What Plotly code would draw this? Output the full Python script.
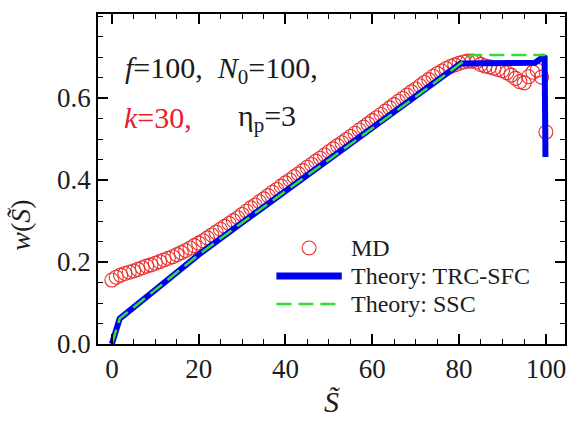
import plotly.graph_objects as go

# MD simulation: w(S~) sampled at every integer S~ from 0 to 100
md_s = list(range(0, 101))
md_w = [
    0.156, 0.163, 0.168, 0.172, 0.175, 0.178, 0.182, 0.186, 0.190, 0.193,
    0.197, 0.201, 0.205, 0.209, 0.213, 0.218, 0.223, 0.228, 0.234, 0.240,
    0.246, 0.252, 0.259, 0.266, 0.273, 0.280, 0.287, 0.294, 0.301, 0.308,
    0.316, 0.324, 0.332, 0.339, 0.347, 0.354, 0.362, 0.370, 0.377, 0.385,
    0.393, 0.400, 0.408, 0.415, 0.423, 0.431, 0.438, 0.446, 0.453, 0.461,
    0.469, 0.476, 0.484, 0.491, 0.499, 0.506, 0.514, 0.522, 0.529, 0.537,
    0.545, 0.552, 0.560, 0.568, 0.576, 0.584, 0.592, 0.599, 0.607, 0.615,
    0.622, 0.630, 0.638, 0.645, 0.653, 0.660, 0.666, 0.672, 0.677, 0.681,
    0.685, 0.688, 0.690, 0.690, 0.688, 0.682, 0.678, 0.676, 0.673, 0.670,
    0.667, 0.662, 0.656, 0.648, 0.640, 0.637, 0.652, 0.663, 0.668, 0.651,
    0.517,
]

# Theory: TRC-SFC
trc_s = [0.0, 1.8, 10.0, 20.0, 30.0, 40.0, 50.0, 60.0, 70.0, 80.3, 97.5, 99.7, 99.9]
trc_w = [0.0, 0.062, 0.132, 0.218, 0.296, 0.373, 0.449, 0.525, 0.603, 0.684, 0.686, 0.703, 0.456]

# Theory: SSC
ssc_s = [0.0, 1.8, 10.0, 20.0, 30.0, 40.0, 50.0, 60.0, 70.0, 80.3, 83.0, 99.9]
ssc_w = [0.0, 0.062, 0.132, 0.218, 0.296, 0.373, 0.449, 0.525, 0.603, 0.684, 0.705, 0.705]

x_ticks = [0, 20, 40, 60, 80, 100]
y_ticks = [0.0, 0.2, 0.4, 0.6]

SERIF = "Liberation Serif, Times New Roman, serif"
INK = "#1c1c1c"
MD_RED = "#e8302c"
TRC_BLUE = "#0000f0"
SSC_GREEN = "#33dd33"
SSC_DASH = "15px,7px"

fig = go.Figure()
fig.add_trace(go.Scatter(
    x=md_s, y=md_w, mode="markers", name="MD",
    marker=dict(symbol="circle-open", size=14, color=MD_RED, line=dict(width=1.1)),
))
fig.add_trace(go.Scatter(
    x=trc_s, y=trc_w, mode="lines", name="Theory: TRC-SFC",
    line=dict(color=TRC_BLUE, width=6),
))
fig.add_trace(go.Scatter(
    x=ssc_s, y=ssc_w, mode="lines", name="Theory: SSC",
    line=dict(color=SSC_GREEN, width=2.5, dash=SSC_DASH),
))

axis_common = dict(
    showline=True, linecolor="black", linewidth=1.5, mirror="ticks",
    ticks="inside", ticklen=10, tickwidth=1.5, tickcolor="black",
    showgrid=False, zeroline=False,
    tickfont=dict(family=SERIF, size=27, color=INK),
)

fig.update_xaxes(
    range=[-3.2, 104.4], tickvals=x_ticks,
    minor=dict(dtick=5, tick0=0, ticks="inside", ticklen=5, tickwidth=1.2, tickcolor="black"),
    title=dict(text="<i>S\u0303</i>", font=dict(family=SERIF, size=30, color=INK), standoff=8),
    **axis_common,
)
fig.update_yaxes(
    range=[0.0, 0.805], tickvals=y_ticks, tickformat=".1f",
    minor=dict(dtick=0.05, tick0=0, ticks="inside", ticklen=5, tickwidth=1.2, tickcolor="black"),
    **axis_common,
)

# y-axis title
fig.add_annotation(
    xref="paper", yref="paper", x=-0.166, y=0.36, xanchor="center", yanchor="middle",
    textangle=-90, text="<i>w</i>(<i>S\u0303</i>)", showarrow=False,
    font=dict(family=SERIF, size=28, color=INK),
)

# parameter labels
fig.add_annotation(
    xref="paper", yref="paper", x=0.053, y=0.83, xanchor="left", yanchor="middle",
    text="<i>f</i>=100,\u00a0\u00a0<i>N</i><sub>0</sub>=100,", showarrow=False,
    font=dict(family=SERIF, size=30, color=INK),
)
fig.add_annotation(
    xref="paper", yref="paper", x=0.051, y=0.685, xanchor="left", yanchor="middle",
    text="<i>k</i>=30,", showarrow=False,
    font=dict(family=SERIF, size=30, color="#e8202a"),
)
fig.add_annotation(
    xref="paper", yref="paper", x=0.295, y=0.685, xanchor="left", yanchor="middle",
    text="\u03b7<sub>p</sub>=3", showarrow=False,
    font=dict(family=SERIF, size=30, color=INK),
)

# legend box drawn in paper coordinates
KEY_X0, KEY_X1 = 0.382, 0.522
TEXT_X = 0.537
ROW_Y = [0.291, 0.206, 0.121]
fig.add_shape(type="circle", xref="paper", yref="paper",
              x0=0.437, x1=0.467, y0=ROW_Y[0] - 0.021, y1=ROW_Y[0] + 0.021,
              line=dict(color=MD_RED, width=1.1))
fig.add_shape(type="line", xref="paper", yref="paper",
              x0=KEY_X0, x1=KEY_X1, y0=ROW_Y[1], y1=ROW_Y[1],
              line=dict(color=TRC_BLUE, width=7))
fig.add_shape(type="line", xref="paper", yref="paper",
              x0=KEY_X0, x1=KEY_X1, y0=ROW_Y[2], y1=ROW_Y[2],
              line=dict(color=SSC_GREEN, width=2.5, dash=SSC_DASH))
for label, yy in zip(["MD", "Theory: TRC-SFC", "Theory: SSC"], ROW_Y):
    fig.add_annotation(
        xref="paper", yref="paper", x=TEXT_X, y=yy, xanchor="left", yanchor="middle",
        text=label, showarrow=False,
        font=dict(family=SERIF, size=24, color=INK),
    )

fig.update_layout(
    width=574, height=424,
    margin=dict(l=98, r=7, t=14, b=80),
    paper_bgcolor="white", plot_bgcolor="white",
    showlegend=False,
)

fig.write_html("out.html")
